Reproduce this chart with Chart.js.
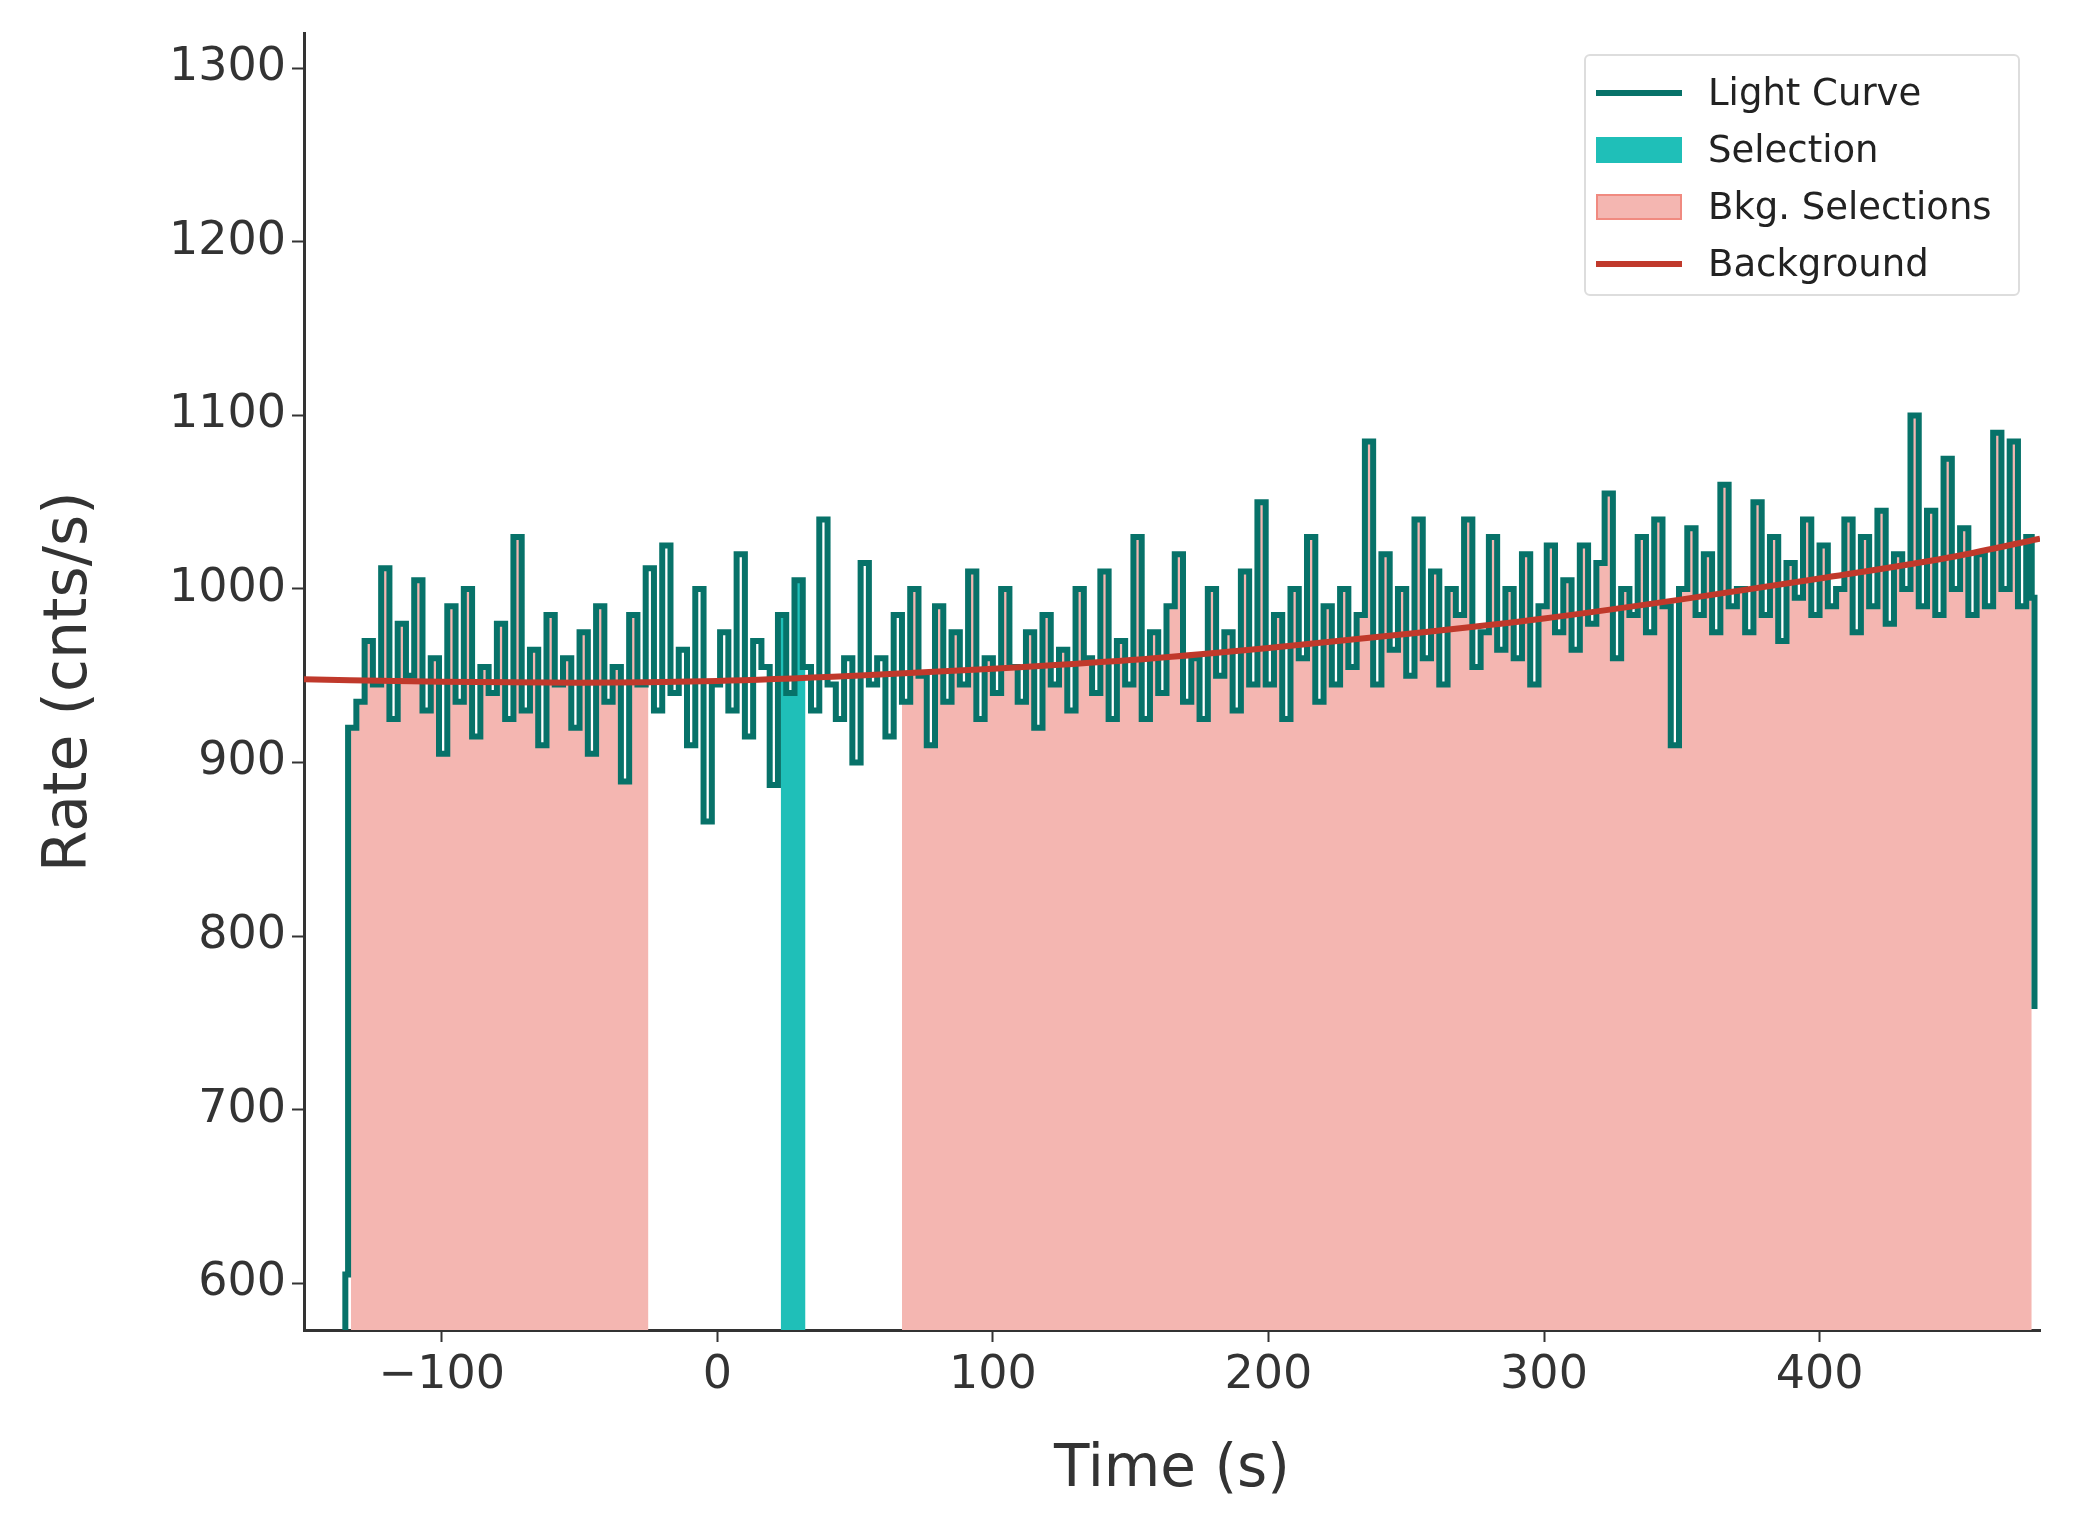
<!DOCTYPE html>
<html><head><meta charset="utf-8">
<script src="https://cdn.jsdelivr.net/npm/chart.js@4/dist/chart.umd.min.js"></script>
<style>
body{margin:0;background:#fff;font-family:"DejaVu Sans",sans-serif}
#wrap{position:relative;width:2073px;height:1540px}
#legend{position:absolute;left:1584px;top:54px;width:436px;height:242px;border:2px solid #ddd;border-radius:6px;background:rgba(255,255,255,.85);box-sizing:border-box;padding:8px 0 0 10px;font-size:37px;color:#222}
.row{display:flex;align-items:center;height:57px}
.sw{width:86px;margin-right:26px}
</style></head><body>
<div id="wrap"><canvas id="c" width="2073" height="1540"></canvas>
<div id="legend">
<div class="row"><div class="sw" style="height:6px;background:#077269"></div>Light Curve</div>
<div class="row"><div class="sw" style="height:26px;background:#1fbfb8"></div>Selection</div>
<div class="row"><div class="sw" style="height:26px;background:#f4b6b1;border:2px solid #f08a80;box-sizing:border-box"></div>Bkg. Selections</div>
<div class="row"><div class="sw" style="height:6px;background:#c0392b"></div>Background</div>
</div></div>
<script>
const t0 = -134, dt = 3;
const rates = [
920,935,970,945,1012,925,980,950,1005,930,
960,905,990,935,1000,915,955,940,980,925,
1030,930,965,910,985,945,960,920,975,905,
990,935,955,889,985,945,1012,930,1025,940,
965,910,1000,866,945,975,930,1020,915,970,
955,887,985,940,1005,955,930,1040,945,925,
960,900,1015,945,960,915,985,935,1000,950,
910,990,935,975,945,1010,925,960,940,1000,
955,935,975,920,985,945,965,930,1000,960,
940,1010,925,970,945,1030,925,975,940,990,
1020,935,960,925,1000,950,975,930,1010,945,
1050,945,985,925,1000,960,1030,935,990,945,
1000,955,985,1085,945,1020,965,1000,950,1040,
960,1010,945,1000,985,1040,955,975,1030,965,
1000,960,1020,945,990,1025,975,1005,965,1025,
980,1015,1055,960,1000,985,1030,975,1040,990,
910,1000,1035,985,1020,975,1060,990,1000,975,
1050,985,1030,970,1015,995,1040,985,1025,990,
1000,1040,975,1030,990,1045,980,1020,1000,1100,
990,1045,985,1075,1000,1035,985,1020,990,1090,
1000,1085,990,1030];
const lcStart = [{x:-136,y:570},{x:-135,y:605}];
const lcEnd = [{x:477,y:995},{x:478,y:758}];
const bgTimes = [-150,-100,-50,0,50,100,150,200,250,300,350,400,450,480];
const bgRates = [948,946.5,946,947,950,954,959,966,974,983,994,1006,1019,1029];
const bkgRanges = [[-133,-25],[67,477]];
const selRange = [23,32];
const yTicks = [600,700,800,900,1000,1100,1200,1300];
const xTicks = [-100,0,100,200,300,400];

const lc = lcStart.concat(rates.map((r,i)=>({x:t0+i*dt,y:r})), lcEnd);
function valAt(t){let v=lc[0].y;for(const p of lc){if(p.x<=t)v=p.y;else break;}return v;}
function slice(a,b){
  const pts=[{x:a,y:valAt(a)}];
  lc.forEach(p=>{if(p.x>a&&p.x<b)pts.push(p);});
  pts.push({x:b,y:valAt(b)});
  return pts;
}
const datasets=[];
bkgRanges.forEach(([a,b])=>datasets.push({data:slice(a,b),stepped:'before',fill:'start',backgroundColor:'#f4b6b1',borderColor:'#f08a80',borderWidth:2,pointRadius:0,order:3}));
datasets.push({data:slice(selRange[0],selRange[1]),stepped:'before',fill:'start',backgroundColor:'#1fbfb8',borderWidth:0,pointRadius:0,order:2});
datasets.push({data:lc,stepped:'before',fill:false,borderColor:'#077269',borderWidth:6,pointRadius:0,order:1});
datasets.push({data:bgTimes.map((t,i)=>({x:t,y:bgRates[i]})),cubicInterpolationMode:'monotone',fill:false,borderColor:'#c0392b',borderWidth:6,pointRadius:0,order:0});

const axisCol='#333';
new Chart(document.getElementById('c'),{
  type:'line',
  data:{datasets},
  options:{
    responsive:false,devicePixelRatio:1,animation:false,
    layout:{padding:{top:33,right:33,left:30,bottom:30}},
    plugins:{legend:{display:false},tooltip:{enabled:false}},
    scales:{
      x:{type:'linear',min:-150,max:480,
        afterBuildTicks:s=>{s.ticks=xTicks.map(v=>({value:v}));},
        afterFit:s=>{s.height=180;},
        grid:{display:true,drawOnChartArea:false,tickLength:12,color:axisCol,tickWidth:2},
        border:{color:axisCol,width:3},
        ticks:{font:{size:46,family:'DejaVu Sans'},color:axisCol,padding:6,callback:v=>String(v).replace('-','\u2212')},
        title:{display:true,text:'Time (s)',font:{size:58,family:'DejaVu Sans'},color:axisCol,padding:{top:0}}},
      y:{type:'linear',min:573,max:1320,
        afterBuildTicks:s=>{s.ticks=yTicks.map(v=>({value:v}));},
        afterFit:s=>{s.width=274;},
        grid:{display:true,drawOnChartArea:false,tickLength:12,color:axisCol,tickWidth:2},
        border:{color:axisCol,width:3},
        ticks:{font:{size:46,family:'DejaVu Sans'},color:axisCol,padding:6,callback:v=>String(v)},
        title:{display:true,text:'Rate (cnts/s)',font:{size:60,family:'DejaVu Sans'},color:axisCol,padding:{bottom:10}}}
    }
  }
});
</script></body></html>
